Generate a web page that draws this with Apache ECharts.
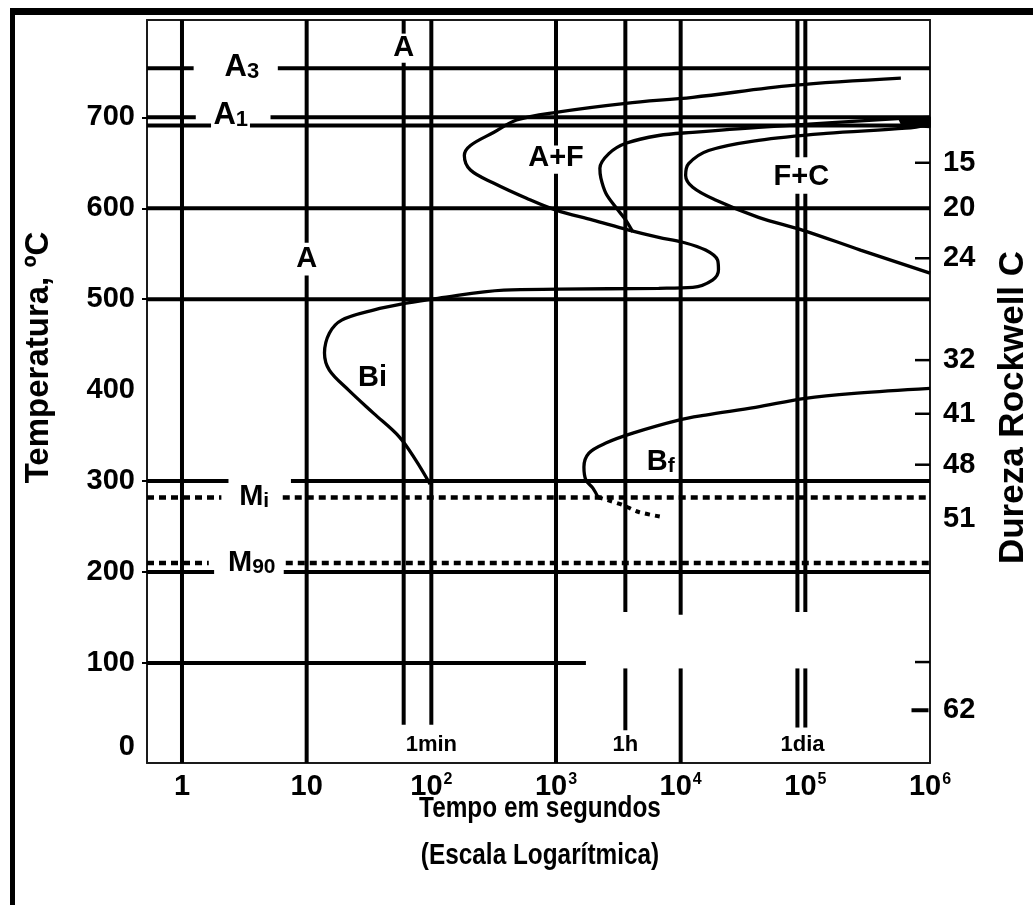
<!DOCTYPE html>
<html>
<head>
<meta charset="utf-8">
<title>Diagrama TTT</title>
<script src="https://cdn.jsdelivr.net/npm/echarts@6/dist/echarts.min.js"></script>
<style>
  html, body { margin: 0; padding: 0; background: #fff; overflow: hidden; }
  #chart { width: 1033px; height: 905px; }
</style>
</head>
<body>
<div id="chart"></div>
<script>
const FONT = '"Liberation Sans", Arial, Helvetica, sans-serif';

// Axis extents and ticks
const timeMin = 0.524, timeMax = 1e6;
const tempMin = -10, tempMax = 807;
const timeTicks = [1, 10, 100, 1000, 10000, 100000, 1000000];
const temperatureTicks = [0, 100, 200, 300, 400, 500, 600, 700];
const temperatureTickMarks = [100, 200, 300, 500, 600, 700];

// Rockwell C hardness scale (right side)
const hardnessLabels = ['15', '20', '24', '32', '41', '48', '51', '62'];
const hardnessLabelTemps = [650, 600, 545, 433, 374, 318, 258, 48];
const hardnessTickTemps = [650, 545, 433, 374, 318, 101];
const hardnessMajorTickTemps = [48];

// Transformation curves: [time (s), temperature (°C)]
const curveStart = [
  [584000, 743], [78700, 735], [12500, 722], [3630, 715.4], [1000, 705.5],
  [483, 697], [318, 683.5], [206, 669], [184, 658], [206, 642], [318, 627.5],
  [580, 611], [1000, 598], [1977, 587], [3840, 576], [6670, 568], [10400, 562.6],
  [15850, 554], [19770, 543], [20100, 532], [18000, 521], [12500, 513],
  [6670, 512], [1057, 511], [382, 510], [113, 501], [62.8, 495.6], [34.3, 488],
  [19.1, 477], [15.2, 462.6], [13.9, 440.7], [15.2, 422], [21.7, 400],
  [34.3, 374.7], [55.5, 348.4], [75, 323], [97.7, 296.7]
];
const curveMid = [
  [1000000, 700], [640000, 699], [42100, 689], [12500, 683.5], [6670, 680],
  [3630, 671.4], [2655, 660], [2249, 644], [2291, 633], [2512, 616.5],
  [3020, 601], [3630, 587], [4130, 574]
];
const curveEnd = [
  [1000000, 692], [640000, 688], [147000, 682.4], [42100, 674.7], [16750, 663.5],
  [11590, 649], [10960, 636], [12500, 623], [19050, 609], [42100, 590],
  [94600, 576], [277000, 554], [1000000, 528.6]
];
const curveBainiteEnd = [
  [1000000, 402], [261000, 396.7], [100000, 391], [39800, 381], [15850, 372.5],
  [9640, 367], [4130, 352.7], [2512, 341.8], [1837, 330.8], [1675, 315.4],
  [1738, 301], [1977, 292.3], [2168, 282.4]
];
const curveBainiteEndDotted = [
  [2168, 282.4], [2606, 279], [3436, 273.6], [4613, 266], [7178, 260.4]
];
// Where the curves run together against the A1 line
const convergenceBand = [[560000, 700], [1000000, 700], [1000000, 689], [600000, 691]];

// Isotherms (°C) and the time spans (s) they are drawn over
const solidIsotherms = [754, 700, 691, 600, 500, 300, 200, 100];
const solidIsothermSpans = [
  [[timeMin, 1.24], [5.87, timeMax]],
  [[timeMin, 1.29], [5.13, timeMax]],
  [[timeMin, 1.71], [3.51, timeMax]],
  [[timeMin, timeMax]],
  [[timeMin, timeMax]],
  [[timeMin, 2.36], [7.48, timeMax]],
  [[timeMin, 1.81], [6.55, timeMax]],
  [[timeMin, 1738]]
];
const dottedIsotherms = [282, 210];
const dottedIsothermSpans = [
  [[timeMin, 2.07], [6.43, timeMax]],
  [[timeMin, 1.64], [6.8, timeMax]]
];

// Constant-time lines (s) and the temperature spans (°C) they cover
const timeLines = [1, 10, 60, 100, 1000, 3600, 10000, 86400, 100000];
const timeLineSpans = [
  [[tempMin, tempMax]],
  [[tempMin, 526], [562, tempMax]],
  [[32, 760], [792, tempMax]],
  [[32, tempMax]],
  [[tempMin, 638], [669, tempMax]],
  [[26, 94], [156, tempMax]],
  [[tempMin, 94], [153, tempMax]],
  [[29, 94], [156, 616], [656, tempMax]],
  [[29, 94], [156, 616], [656, tempMax]]
];

// Region labels
const regionNames = ['A', 'A', 'A+F', 'F+C', 'Bi'];
const regionPoints = [[10, 544], [60, 776], [1000, 655], [92900, 634], [33.7, 413]];
const criticalNames = ['{b|A}{sub|3}', '{b|A}{sub|1}', '{m|M}{low|i}', '{m|M}{low|90}', '{m|B}{low|f}'];
const criticalPoints = [[3.02, 754], [2.46, 701], [3.79, 283], [3.63, 210], [6918, 321]];
const timeMarkNames = ['1min', '1h', '1dia'];
const timeMarkPoints = [[100, 10], [3600, 10], [95000, 10]];

const BLACK = '#000';
const series = [];

function segmentSeries(points, style, z) {
  return {
    type: 'line', data: points, symbol: 'none', silent: true, z: z,
    lineStyle: style, animation: false
  };
}

solidIsotherms.forEach((temp, i) => {
  solidIsothermSpans[i].forEach(span => {
    series.push(segmentSeries([[span[0], temp], [span[1], temp]],
      { color: BLACK, width: 4, cap: 'butt' }, 2));
  });
});
dottedIsotherms.forEach((temp, i) => {
  dottedIsothermSpans[i].forEach(span => {
    series.push(segmentSeries([[span[0], temp], [span[1], temp]],
      { color: BLACK, width: 4.5, type: [7, 5], cap: 'butt' }, 2));
  });
});
timeLines.forEach((t, i) => {
  timeLineSpans[i].forEach(span => {
    series.push(segmentSeries([[t, span[0]], [t, span[1]]],
      { color: BLACK, width: 4, cap: 'butt' }, 2));
  });
});

[curveStart, curveMid, curveEnd, curveBainiteEnd].forEach(curve => {
  series.push({
    type: 'line', data: curve, symbol: 'none', smooth: 0.35, silent: true, z: 4,
    lineStyle: { color: BLACK, width: 3.3 }, animation: false
  });
});
series.push({
  type: 'line', data: curveBainiteEndDotted, symbol: 'none', smooth: 0.3, silent: true, z: 4,
  lineStyle: { color: BLACK, width: 4, type: [5, 5] }, animation: false
});
series.push({
  type: 'line', data: convergenceBand.concat([convergenceBand[0]]), symbol: 'none', silent: true, z: 4,
  lineStyle: { color: BLACK, width: 2 }, areaStyle: { color: BLACK, opacity: 1, origin: 'auto' },
  animation: false
});

const labelBase = { fontFamily: FONT, fontWeight: 'bold', color: BLACK, textBorderWidth: 0 };
const solidItem = { opacity: 1, color: BLACK };

series.push({
  type: 'scatter', symbolSize: 0, silent: true, z: 10, animation: false, itemStyle: solidItem,
  data: regionPoints.map((p, i) => ({ value: p, name: regionNames[i] })),
  label: { show: true, position: 'inside', formatter: '{b}', ...labelBase, fontSize: 29 }
});
series.push({
  type: 'scatter', symbolSize: 0, silent: true, z: 10, animation: false, itemStyle: solidItem,
  data: criticalPoints.map((p, i) => ({ value: p, name: criticalNames[i] })),
  label: {
    show: true, position: 'inside', formatter: '{b}', ...labelBase,
    rich: {
      b: { ...labelBase, fontSize: 31, lineHeight: 30, verticalAlign: 'bottom' },
      sub: { ...labelBase, fontSize: 22, lineHeight: 8, verticalAlign: 'bottom' },
      m: { ...labelBase, fontSize: 29, lineHeight: 30, verticalAlign: 'bottom' },
      low: { ...labelBase, fontSize: 21, lineHeight: 24, verticalAlign: 'bottom' }
    }
  }
});
series.push({
  type: 'scatter', symbolSize: 0, silent: true, z: 10, animation: false, itemStyle: solidItem,
  data: timeMarkPoints.map((p, i) => ({ value: p, name: timeMarkNames[i] })),
  label: { show: true, position: 'inside', formatter: '{b}', ...labelBase, fontSize: 22 }
});

// Hardness scale marks and labels along the right edge
series.push({
  type: 'scatter', symbol: 'rect', symbolSize: [15, 2.5], symbolOffset: [-7.5, 0],
  silent: true, z: 6, animation: false, itemStyle: solidItem,
  data: hardnessTickTemps.map(T => [timeMax, T])
});
series.push({
  type: 'scatter', symbol: 'rect', symbolSize: [17, 4], symbolOffset: [-10, 0],
  silent: true, z: 6, animation: false, itemStyle: solidItem,
  data: hardnessMajorTickTemps.map(T => [timeMax, T])
});
series.push({
  type: 'scatter', symbolSize: 0, silent: true, z: 10, animation: false, itemStyle: solidItem,
  data: hardnessLabelTemps.map((T, i) => ({ value: [timeMax, T], name: hardnessLabels[i] })),
  label: { show: true, position: 'right', distance: 13, formatter: '{b}', ...labelBase, fontSize: 29 }
});

const frameLine = { show: true, onZero: false, lineStyle: { color: '#1a1a1a', width: 2 } };

const option = {
  backgroundColor: '#fff',
  animation: false,
  grid: { left: 147, right: 103, top: 20, bottom: 142, containLabel: false, outerBoundsMode: 'none' },
  xAxis: [
    {
      type: 'log', logBase: 10, min: timeMin, max: timeMax, position: 'bottom',
      axisLine: frameLine,
      axisTick: { show: false },
      splitLine: { show: false },
      minorSplitLine: { show: false },
      axisLabel: {
        customValues: timeTicks, margin: 9,
        formatter: v => {
          const e = Math.round(Math.log10(v));
          if (e === 0) return '{b|1}';
          if (e === 1) return '{b|10}';
          return '{b|10}{s|' + e + '}';
        },
        rich: {
          b: { ...labelBase, fontSize: 29, lineHeight: 30, verticalAlign: 'middle' },
          s: { ...labelBase, fontSize: 16, lineHeight: 14, verticalAlign: 'top', padding: [0, 0, 0, 1] }
        }
      }
    },
    {
      type: 'log', logBase: 10, min: timeMin, max: timeMax, position: 'top',
      axisLine: frameLine, axisTick: { show: false }, axisLabel: { show: false },
      splitLine: { show: false }
    }
  ],
  yAxis: [
    {
      type: 'value', min: tempMin, max: tempMax, position: 'left',
      axisLine: frameLine,
      axisTick: { show: true, customValues: temperatureTickMarks, length: 5, lineStyle: { color: BLACK, width: 2 } },
      splitLine: { show: false },
      axisLabel: {
        customValues: temperatureTicks, margin: 12,
        formatter: v => (v === 0 ? '{z|0}' : '{n|' + v + '}'),
        rich: {
          n: { ...labelBase, fontSize: 29 },
          z: { ...labelBase, fontSize: 29, padding: [0, 0, 14, 0] }
        }
      },
      name: 'Temperatura, ºC', nameLocation: 'middle', nameRotate: 90, nameGap: 92,
      nameMoveOverlap: false,
      nameTextStyle: { ...labelBase, fontSize: 33, padding: [0, 0, 0, 68] }
    },
    {
      type: 'value', min: tempMin, max: tempMax, position: 'right',
      axisLine: frameLine, axisTick: { show: false }, axisLabel: { show: false },
      splitLine: { show: false },
      name: 'Dureza Rockwell C', nameLocation: 'middle', nameRotate: 90, nameGap: 66,
      nameMoveOverlap: false,
      nameTextStyle: { ...labelBase, fontSize: 35, padding: [0, 32, 0, 0] }
    }
  ],
  graphic: [
    { type: 'rect', shape: { x: 10, y: 8, width: 1023, height: 7 }, style: { fill: BLACK }, silent: true },
    { type: 'rect', shape: { x: 10, y: 8, width: 5, height: 897 }, style: { fill: BLACK }, silent: true },
    // time-axis title, set in a condensed bold face
    {
      type: 'text', x: 540, y: 809, scaleX: 0.84, silent: true,
      style: { text: 'Tempo em segundos', font: 'bold 29px ' + FONT, fill: BLACK, align: 'center', verticalAlign: 'middle' }
    },
    {
      type: 'text', x: 540, y: 856, scaleX: 0.84, silent: true,
      style: { text: '(Escala Logarítmica)', font: 'bold 29px ' + FONT, fill: BLACK, align: 'center', verticalAlign: 'middle' }
    }
  ],
  series: series
};

const chart = echarts.init(document.getElementById('chart'), null, { renderer: 'canvas' });
chart.setOption(option);
</script>
</body>
</html>
